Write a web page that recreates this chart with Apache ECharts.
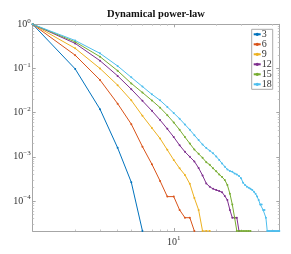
<!DOCTYPE html>
<html><head><meta charset="utf-8">
<script src="https://cdn.jsdelivr.net/npm/echarts@6/dist/echarts.min.js"></script>
<style>html,body{margin:0;padding:0;background:#fff}#c{width:291px;height:254px}</style>
</head><body><div id="c"></div>
<script>
// Series names (legend) and colours
const seriesNames = ['3', '6', '9', '12', '15', '18'];
const seriesColors = ['#0072BD', '#D95319', '#EDB120', '#7E2F8E', '#77AC30', '#4DBEEE'];
// Values at n = 1, 2, 3, ...
const s3 = [1, 0.098, 0.012, 0.0016, 0.000266, 2.1e-5];
const s6 = [1, 0.20, 0.055, 0.016, 0.0055, 0.0017, 6.8e-4, 2.85e-4, 1.26e-4, 1.26e-4, 6.3e-5, 4.2e-5, 4.2e-5, 2.1e-5];
const s9 = [1, 0.286, 0.10, 0.042, 0.019, 0.0085, 0.0045, 0.0026, 0.00144, 0.00085, 0.00055, 0.00039, 0.000245, 0.000117, 6.3e-5, 2.1e-5, 2.1e-5, 2.1e-5];
const s12 = [1, 0.37, 0.15, 0.068, 0.034, 0.0185, 0.011, 0.0068, 0.0043, 0.0028, 0.00183, 0.0013, 0.0010, 0.00079, 0.00056, 0.00038, 0.00025, 0.00021, 0.000189, 0.000178, 0.000168, 0.000158, 0.00013, 0.000105, 6.3e-5, 4.2e-5, 4.2e-5, 4.2e-5, 2.1e-5];
const s15 = [1, 0.40, 0.185, 0.089, 0.046, 0.0285, 0.0189, 0.013, 0.0088, 0.006, 0.0041, 0.0028, 0.0020, 0.00146, 0.00117, 0.00095, 0.00076, 0.00066, 0.00055, 0.00047, 0.00040, 0.00035, 0.00030, 0.00023, 0.000147, 8.4e-5, 4.2e-5, 2.1e-5, 2.1e-5, 2.1e-5, 2.1e-5, 2.1e-5, 2.1e-5, 2.1e-5, 2.1e-5];
const s18 = [1, 0.43, 0.22, 0.114, 0.063, 0.039, 0.026, 0.019, 0.0135, 0.0098, 0.0073, 0.0054, 0.0041, 0.0031, 0.0024, 0.0019, 0.00158, 0.00138, 0.0012, 0.00102, 0.00085, 0.00071, 0.0006, 0.00052, 0.00048, 0.00046, 0.00042, 0.0004, 0.00037, 0.00033, 0.00026, 0.00023, 0.00021, 0.0002, 0.00019, 0.000178, 0.000162, 0.000147, 0.000126, 0.000105, 8.4e-5, 8.4e-5, 6.3e-5, 6.3e-5, 4.2e-5, 2.1e-5, 2.1e-5, 2.1e-5, 2.1e-5, 2.1e-5, 2.1e-5, 2.1e-5, 2.1e-5, 2.1e-5, 2.1e-5, 2.1e-5];
const allSeries = [s3, s6, s9, s12, s15, s18];
// Tick labels (powers of ten shown)
const xTickExponents = [1];
const yTickExponents = [0, -1, -2, -3, -4];
const titleText = 'Dynamical power-law';

const FONT = 'Liberation Serif';
const axisCol = '#a6a6a6';
function powLabel(list) {
  return function (v) {
    const l = Math.log10(v), e = Math.round(l);
    if (Math.abs(l - e) > 1e-6 || list.indexOf(e) < 0) return '';
    return '{b|10}{s|' + (e < 0 ? '\u2212' + (-e) : String(e)) + '}';
  };
}
const rich = {
  b: { fontFamily: FONT, fontSize: 10, color: '#333' },
  s: { fontFamily: FONT, fontSize: 7, color: '#333', padding: [0, 0, 7, 0] }
};
function mkAxis(kind, pos, showLabel, list, min, max) {
  return {
    type: 'log', logBase: 10, position: pos, min: min, max: max,
    axisLine: { show: true, lineStyle: { color: axisCol, width: 1 } },
    axisTick: { show: true, inside: true, length: 3, lineStyle: { color: axisCol } },
    minorTick: { show: true, splitNumber: 9, length: 1.5, lineStyle: { color: '#c8c8c8' } },
    splitLine: { show: false },
    minorSplitLine: { show: false },
    axisLabel: { show: showLabel, formatter: powLabel(list), rich: rich, margin: kind === 'x' ? 4 : 2,
      showMinLabel: true, showMaxLabel: true }
  };
}
const chart = echarts.init(document.getElementById('c'), null, { renderer: 'canvas' });
chart.setOption({
  animation: false,
  backgroundColor: '#fff',
  title: { text: titleText, left: 156, top: 9, textAlign: 'center', padding: 0,
    textStyle: { fontFamily: FONT, fontWeight: 'bold', fontSize: 10.5, color: '#111' } },
  grid: { left: 32.7, right: 11.7, top: 24.3, bottom: 23, containLabel: false },
  xAxis: [mkAxis('x', 'bottom', true, xTickExponents, 1, 56), mkAxis('x', 'top', false, xTickExponents, 1, 56)],
  yAxis: [mkAxis('y', 'left', true, yTickExponents, 2.1e-5, 1), mkAxis('y', 'right', false, yTickExponents, 2.1e-5, 1)],
  legend: {
    orient: 'vertical', right: 18.3, top: 29.3, itemWidth: 7, itemHeight: 4, itemGap: 0,
    padding: [0, 1, 0, 1], backgroundColor: '#fff', borderColor: '#aaa', borderWidth: 1, borderRadius: 0,
    textStyle: { fontFamily: FONT, fontSize: 10, lineHeight: 8.3, color: '#333', padding: [0, 0, 0, -4] },
    itemStyle: { borderWidth: 0 },
    data: seriesNames
  },
  series: allSeries.map((arr, k) => ({
    name: seriesNames[k], type: 'line', xAxisIndex: 0, yAxisIndex: 0,
    data: arr.map((v, i) => [i + 1, v]),
    symbol: 'circle', symbolSize: 2, showSymbol: true, clip: true,
    lineStyle: { width: 1, color: seriesColors[k] }, itemStyle: { color: seriesColors[k] },
    emphasis: { disabled: true }
  }))
});
</script></body></html>
